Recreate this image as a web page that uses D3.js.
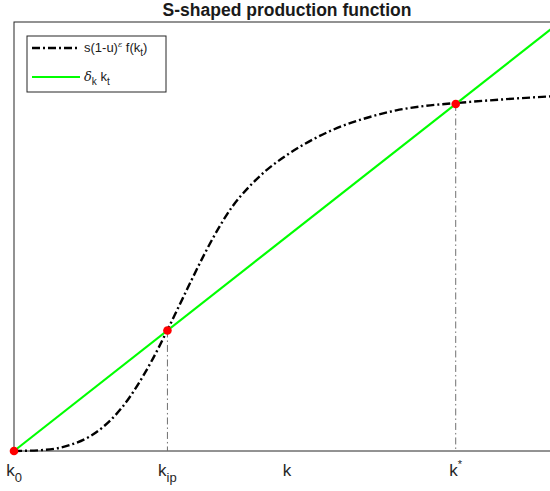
<!DOCTYPE html>
<html>
<head>
<meta charset="utf-8">
<script src="https://cdn.jsdelivr.net/npm/d3@7"></script>
<style>
  body { margin: 0; background: #fff; }
  svg { display: block; font-family: "Liberation Sans", Arial, Helvetica, sans-serif; }
</style>
</head>
<body>
<div id="chart"></div>
<script>
// capital stock values and the S-shaped saving curve
const kVals = [0, 0.5, 1.0, 1.5, 2.0, 2.5, 2.81, 3.0, 3.25, 3.5, 3.75, 4.0, 4.3, 4.6, 5.0, 5.5, 6.0, 6.5, 7.0, 7.5, 8.09, 9.0, 10.0];
const fVals = [0, 0.002, 0.013, 0.043, 0.105, 0.205, 0.282, 0.332, 0.398, 0.462, 0.520, 0.570, 0.615, 0.652, 0.690, 0.728, 0.757, 0.778, 0.794, 0.804, 0.811, 0.820, 0.828];
const deltaK = 0.1;
const lineEnds = [0, 10];

// special points: k0, inflection point, steady state
const pointNames = ["k0", "kip", "kstar"];
const pointK = [0, 2.81, 8.09];

// tick labels: base, subscript, superscript
const tickK = [0, 2.81, 8.09];
const tickBase = ["k", "k", "k"];
const tickSub = ["0", "ip", ""];
const tickSup = ["", "", "*"];

const W = 550, H = 491;
const margin = { top: 22, right: -10, bottom: 40, left: 14 };
const width = W - margin.left - margin.right,
    height = H - margin.top - margin.bottom;

const svg = d3.select("#chart").append("svg")
    .attr("width", W)
    .attr("height", H);

const g = svg.append("g")
    .attr("transform", `translate(${margin.left},${margin.top})`);

const x = d3.scaleLinear().domain([0, 10]).range([0, width]);
const y = d3.scaleLinear().domain([0, 1]).range([height, 0]);

// title
svg.append("text")
    .attr("x", margin.left + width / 2)
    .attr("y", 16)
    .attr("text-anchor", "middle")
    .attr("font-size", "17.5px")
    .attr("font-weight", "bold")
    .attr("fill", "#1a1a1a")
    .text("S-shaped production function");

// axes box
g.append("rect")
    .attr("width", width)
    .attr("height", height)
    .attr("fill", "none")
    .attr("stroke", "#262626")
    .attr("stroke-width", 1);

// vertical guides from the intersections down to the axis
g.selectAll(".guide")
    .data(pointK.slice(1))
    .enter().append("line")
    .attr("class", "guide")
    .attr("x1", d => x(d))
    .attr("x2", d => x(d))
    .attr("y1", d => y(deltaK * d))
    .attr("y2", height)
    .attr("stroke", "#707070")
    .attr("stroke-width", 1)
    .attr("stroke-dasharray", "7,3,1.5,3");

// S-shaped curve
const curveData = kVals.map((k, i) => ({ k: k, f: fVals[i] }));
g.append("path")
    .datum(curveData)
    .attr("fill", "none")
    .attr("stroke", "#000")
    .attr("stroke-width", 2.4)
    .attr("stroke-dasharray", "8,3,2,3")
    .attr("d", d3.line()
        .x(d => x(d.k))
        .y(d => y(d.f))
        .curve(d3.curveMonotoneX));

// depreciation line
g.append("path")
    .datum(lineEnds)
    .attr("fill", "none")
    .attr("stroke", "#00ff00")
    .attr("stroke-width", 2.2)
    .attr("d", d3.line()
        .x(d => x(d))
        .y(d => y(deltaK * d)));

// intersection points
g.selectAll(".pt")
    .data(pointK)
    .enter().append("circle")
    .attr("class", "pt")
    .attr("cx", d => x(d))
    .attr("cy", d => y(deltaK * d))
    .attr("r", 4.3)
    .attr("fill", "#ff0000");

// tick labels
const ticks = g.selectAll(".tick-label")
    .data(tickK)
    .enter().append("text")
    .attr("class", "tick-label")
    .attr("x", d => x(d))
    .attr("y", height + 25)
    .attr("text-anchor", "middle")
    .attr("font-size", "17px")
    .attr("fill", "#262626");

ticks.append("tspan").text((d, i) => tickBase[i]);
ticks.filter((d, i) => tickSub[i] !== "")
    .append("tspan")
    .attr("dy", 6)
    .attr("font-size", "13px")
    .text(d => tickSub[tickK.indexOf(d)]);
ticks.filter((d, i) => tickSup[i] !== "")
    .append("tspan")
    .attr("dy", -8)
    .attr("font-size", "11px")
    .text(d => tickSup[tickK.indexOf(d)]);

// x label
g.append("text")
    .attr("x", width / 2)
    .attr("y", height + 25)
    .attr("text-anchor", "middle")
    .attr("font-size", "17px")
    .attr("fill", "#262626")
    .text("k");

// legend
const legend = svg.append("g").attr("transform", "translate(27,36)");
legend.append("rect")
    .attr("width", 139)
    .attr("height", 56)
    .attr("fill", "#fff")
    .attr("stroke", "#262626")
    .attr("stroke-width", 1);

legend.append("line")
    .attr("x1", 5).attr("x2", 53)
    .attr("y1", 12).attr("y2", 12)
    .attr("stroke", "#000")
    .attr("stroke-width", 2.4)
    .attr("stroke-dasharray", "8,3,2,3");

legend.append("line")
    .attr("x1", 5).attr("x2", 53)
    .attr("y1", 41).attr("y2", 41)
    .attr("stroke", "#00ff00")
    .attr("stroke-width", 2.2);

const l1 = legend.append("text")
    .attr("x", 57).attr("y", 16)
    .attr("font-size", "13px")
    .attr("fill", "#1a1a1a");
l1.append("tspan").text("s(1-u)");
l1.append("tspan").attr("dy", -5).attr("font-size", "8px").attr("font-family", "DejaVu Serif").attr("font-style", "italic").text("\u03B5");
l1.append("tspan").attr("dy", 5).text(" f(k");
l1.append("tspan").attr("dy", 4).attr("font-size", "10px").text("t");
l1.append("tspan").attr("dy", -4).text(")");

const l2 = legend.append("text")
    .attr("x", 57).attr("y", 45)
    .attr("font-size", "13px")
    .attr("fill", "#1a1a1a");
l2.append("tspan").attr("font-family", "DejaVu Serif").attr("font-style", "italic").text("\u03B4");
l2.append("tspan").attr("dy", 4).attr("font-size", "10px").text("k");
l2.append("tspan").attr("dy", -4).text(" k");
l2.append("tspan").attr("dy", 4).attr("font-size", "10px").text("t");
</script>
</body>
</html>
